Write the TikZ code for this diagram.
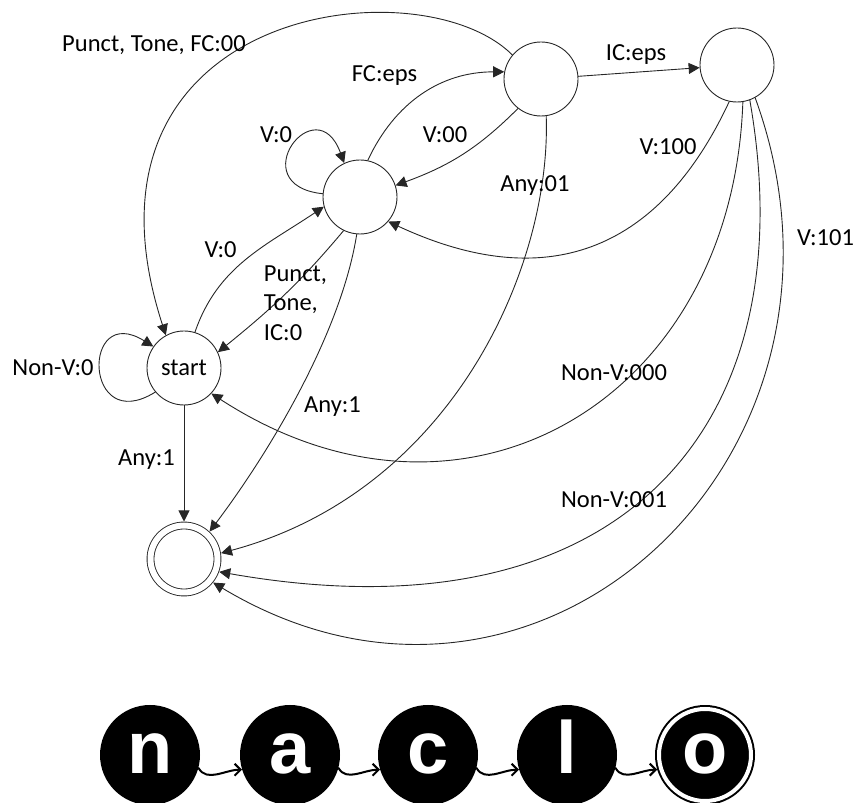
\documentclass[tikz,border=0pt]{standalone}
\usepackage{fontspec}
\setmainfont{Carlito}
\newfontfamily\letterfont{Liberation Sans}
\usetikzlibrary{arrows.meta}

\begin{document}
\begin{tikzpicture}[x=1pt, y=1pt, line join=round, line cap=round,
  font=\fontsize{24.5}{29.5}\selectfont,
  >={Triangle[length=11pt,width=11pt]},
  stnode/.style={circle, draw=black!85, line width=0.9pt, minimum size=74pt, inner sep=0pt},
  accept/.style={stnode, minimum size=67pt, double, double distance=6pt, outer sep=4pt},
  trans/.style={draw=black!85, line width=0.9pt, ->},
  lbl/.style={inner sep=0pt},
  letter/.style={circle, fill=black, text=white, minimum size=100pt, inner sep=0pt,
    font=\letterfont\bfseries\fontsize{74}{74}\selectfont, text height=38pt, text depth=0pt},
  link/.style={line width=2pt, -{Straight Barb[length=6pt,width=12pt]}}]
\useasboundingbox (0,0) rectangle (857,803);

% states
\node[stnode] (start) at (184,435) {start};
\node[stnode] (q1) at (360,606) {};
\node[stnode] (q2) at (541,724) {};
\node[stnode] (q3) at (737,738) {};
\node[accept] (acc) at (184,244) {};

% transitions
\draw[trans] (start.220) to[out=212,in=148,distance=85pt] (start.145);
\draw[trans] (q1.175) to[out=174,in=110,distance=82pt] (q1.115);
\draw[trans] (start.73) to[out=71,in=214] (q1.195);
\draw[trans] (q1.244) to[out=230,in=39] (start.25);
\draw[trans] (q1.265) to[out=261,in=53,distance=100pt] (acc.47);
\draw[trans] (start) -- (acc);
\draw[trans] (q1.78) to[out=65,in=180] (q2.169);
\draw[trans] (q2.232) to[out=225,in=20] (q1.18);
\draw[trans] (q2) -- (q3);
\draw[trans] (q2.140) to[out=135,in=108,out distance=131pt,in distance=345pt] (start.119);
\draw[trans] (q2.278) to[out=272,in=15,out distance=150pt,in distance=240pt] (acc.9);
\draw[trans] (q3.258) to[out=245,in=335,distance=170pt] (q1.319);
\draw[trans] (q3.279) to[out=268,in=327,distance=300pt] (start.317);
\draw[trans] (q3.290) to[out=280,in=350,out distance=330pt,in distance=410pt] (acc.340);
\draw[trans] (q3.299) to[out=290,in=329,distance=380pt] (acc.321);

% labels
\node[lbl] (l-nonv0) at (53,435) {Non-V:0};
\node[lbl] (l-v0loop) at (276,668) {V:0};
\node[lbl] (l-v0) at (220.5,553) {V:0};
\node[lbl, align=left] (l-pti) at (295.5,500) {Punct,\\Tone,\\IC:0};
\node[lbl] (l-any1a) at (332.5,396) {Any:1};
\node[lbl] (l-any1b) at (146.5,343) {Any:1};
\node[lbl] (l-fceps) at (384.5,727) {FC:eps};
\node[lbl] (l-v00) at (445,668) {V:00};
\node[lbl] (l-iceps) at (636,748) {IC:eps};
\node[lbl] (l-ptf) at (154,758) {Punct, Tone, FC:00};
\node[lbl] (l-any01) at (535,617) {Any:01};
\node[lbl] (l-v100) at (668,656) {V:100};
\node[lbl] (l-nonv000) at (614,430) {Non-V:000};
\node[lbl] (l-nonv001) at (614,303) {Non-V:001};
\node[lbl] (l-v101) at (825.5,565) {V:101};

% naclo
\foreach \x/\t in {150/n, 290/a, 428/c, 567/l}
  \node[letter] (\t) at (\x,48) {\t};
\node[letter, draw=black, double=white, double distance=4pt, line width=2pt,
  minimum size=92pt, outer sep=4pt] (o) at (705,48) {o};
\foreach \u/\v in {n/a, a/c, c/l, l/o}
  \draw[link] (\u.-15) to[out=-60,in=180] (\v.197);
\end{tikzpicture}
\end{document}
